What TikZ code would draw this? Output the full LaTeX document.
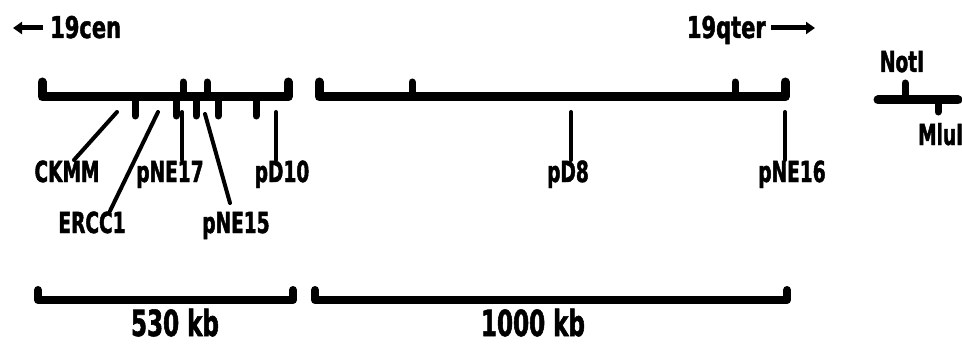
\documentclass[tikz,border=0pt]{standalone}
\usepackage{fontspec}
\newfontfamily\mapfont{DejaVu Sans Bold}[FakeStretch=0.64, FakeBold=1.5]
\newfontfamily\headfont{DejaVu Sans Bold}[FakeStretch=0.7, FakeBold=1.5]
\usetikzlibrary{arrows.meta}
\begin{document}
\begin{tikzpicture}[x=1pt,y=-1pt,
  bar/.style={line width=9pt, line cap=round, line join=round},
  scalebar/.style={line width=8pt, line cap=round, line join=round},
  tick/.style={line width=7pt, line cap=round},
  lead/.style={line width=4pt, line cap=round},
  pointer/.style={line width=5pt, -{Triangle[length=9pt,width=12pt]}},
  lbl/.style={font=\mapfont\fontsize{29}{29}\selectfont, inner sep=0pt, anchor=base},
  head/.style={font=\headfont\fontsize{30}{30}\selectfont, inner sep=0pt},
  kb/.style={font=\mapfont\fontsize{36}{36}\selectfont, inner sep=0pt, anchor=base}]
\useasboundingbox (0,0) rectangle (962,345);

% orientation of the map
\node[head, anchor=base west] (cen) at (50,38) {19cen};
\node[head, anchor=base east] (qter) at (766,38) {19qter};
\coordinate (censtart) at (43,28);
\coordinate (cenend) at (13,28);
\coordinate (qterstart) at (771,28);
\coordinate (qterend) at (815,28);
\draw[pointer] (censtart) -- (cenend);
\draw[pointer] (qterstart) -- (qterend);

% left contig
\draw[bar] (42,82) -- (42,97) -- (288,97) -- (288,82);
\foreach \x in {183,207} \draw[tick] (\x,97) -- (\x,82);
\foreach \x in {135,176,196,218,256} \draw[tick] (\x,97) -- (\x,116);

% right contig
\draw[bar] (319,82) -- (319,97) -- (785,97) -- (785,82);
\foreach \x in {412,735} \draw[tick] (\x,97) -- (\x,82);

% marker labels
\node[lbl] (ckmm)  at (67,182)  {CKMM};
\node[lbl] (ercc)  at (92,233)  {ERCC1};
\node[lbl] (ne17)  at (170,182) {pNE17};
\node[lbl] (ne15)  at (236,233) {pNE15};
\node[lbl] (d10)   at (282,182) {pD10};
\node[lbl] (d8)    at (568,182) {pD8};
\node[lbl] (ne16)  at (792,182) {pNE16};

% marker positions on the map
\coordinate (mckmm) at (117,112);
\coordinate (mercc) at (158,112);
\coordinate (mne17) at (182,112);
\coordinate (mne15) at (205,114);
\coordinate (md10)  at (276,112);
\coordinate (md8)   at (571,112);
\coordinate (mne16) at (785,112);

% lead ends above the labels
\coordinate (eckmm) at (74,160);
\coordinate (eercc) at (110,211);
\coordinate (ene17) at (182,160);
\coordinate (ene15) at (230,203);
\coordinate (ed10)  at (276,160);
\coordinate (ed8)   at (571,160);
\coordinate (ene16) at (785,160);

\draw[lead] (mckmm) -- (eckmm);
\draw[lead] (mercc) -- (eercc);
\draw[lead] (mne17) -- (ene17);
\draw[lead] (mne15) -- (ene15);
\draw[lead] (md10)  -- (ed10);
\draw[lead] (md8)   -- (ed8);
\draw[lead] (mne16) -- (ene16);

% NotI / MluI sites
\draw[bar] (878,100) -- (958,100);
\draw[tick] (905,100) -- (905,83);
\draw[tick] (938,100) -- (938,112);
\node[lbl] (noti) at (902,72) {NotI};
\node[lbl, anchor=base west] (mlui) at (918,145) {MluI};

% scale bars
\draw[scalebar] (38,290) -- (38,300) -- (293,300) -- (293,290);
\draw[scalebar] (315,290) -- (315,300) -- (787,300) -- (787,290);
\node[kb] (kb530)  at (175,336) {530 kb};
\node[kb] (kb1000) at (533,336) {1000 kb};
\end{tikzpicture}
\end{document}
